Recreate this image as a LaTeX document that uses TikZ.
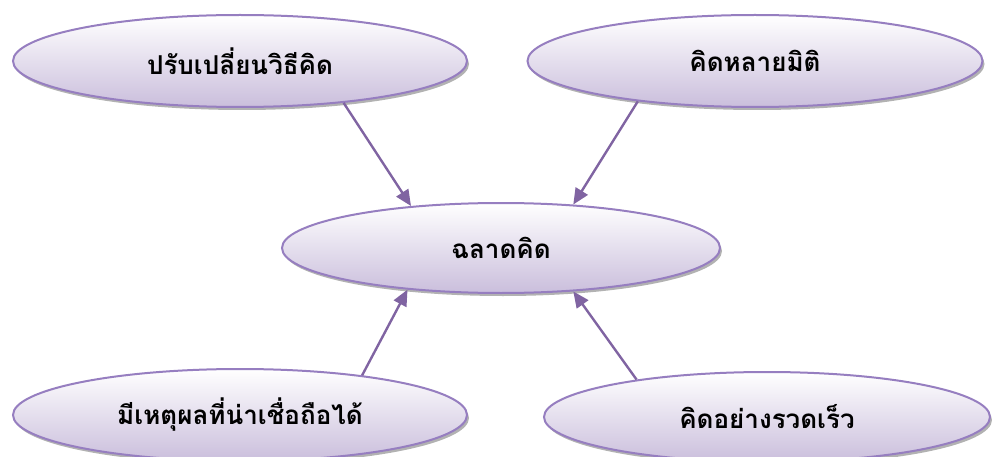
\documentclass[tikz,border=0pt]{standalone}
\usepackage{fontspec}
\newfontfamily\thaifont[Script=Thai]{Loma}
\usetikzlibrary{shapes.geometric,arrows.meta,shadows}
\definecolor{lavbot}{RGB}{202,190,220}
\definecolor{lavedge}{RGB}{150,126,192}
\definecolor{arrowpurple}{RGB}{128,100,162}
\tikzset{
  bubble/.style={ellipse, inner sep=0pt, draw=lavedge, line width=2pt,
    top color=white, bottom color=lavbot,
    drop shadow={shadow xshift=2pt, shadow yshift=-3pt, fill=black, opacity=0.3},
    font=\thaifont\bfseries\fontsize{26}{30}\selectfont},
  link/.style={draw=arrowpurple, line width=2.4pt, -{Triangle[length=16pt,width=14pt]}}
}
\begin{document}
\begin{tikzpicture}[x=1pt,y=-1pt]
\useasboundingbox (0,0) rectangle (992,457);
\node[bubble, minimum width=454pt, minimum height=92pt] (tl) at (240,61) {ปรับเปลี่ยนวิธีคิด};
\node[bubble, minimum width=455pt, minimum height=92pt] (tr) at (755,61) {คิดหลายมิติ};
\node[bubble, minimum width=438pt, minimum height=90pt] (c) at (501,248) {ฉลาดคิด};
\node[bubble, minimum width=454pt, minimum height=92pt] (bl) at (240,415) {มีเหตุผลที่น่าเชื่อถือได้};
\node[bubble, minimum width=446pt, minimum height=90pt] (br) at (767,417) {คิดอย่างรวดเร็ว};
\draw[link] (tl.-22) -- (c.155);
\draw[link] (tr.199) -- (c.31);
\draw[link] (bl.18) -- (c.204);
\draw[link] (br.164) -- (c.-31);
\end{tikzpicture}
\end{document}
